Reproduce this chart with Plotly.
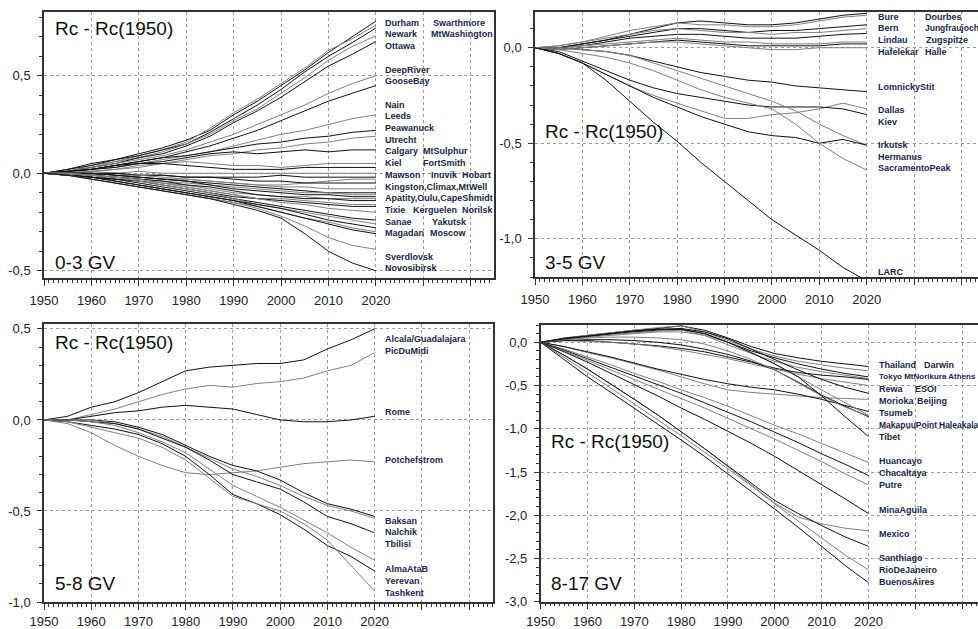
import plotly.graph_objects as go

# ---------------- DATA ----------------
years = [1950, 1955, 1960, 1965, 1970, 1975, 1980, 1985, 1990, 1995, 2000, 2005, 2010, 2015, 2020]

# Panel 1: 0-3 GV
p1_names = ["Durham", "Swarthmore", "Newark", "MtWashington", "Ottawa", "DeepRiver", "GooseBay",
            "Nain", "Leeds", "Peawanuck", "Utrecht", "Calgary", "MtSulphur", "Kiel", "FortSmith",
            "Mawson", "Inuvik", "Hobart", "Kingston", "Climax", "MtWell", "Apatity", "Oulu",
            "CapeShmidt", "Tixie", "Kerguelen", "Norilsk", "Sanae", "Yakutsk", "Magadan", "Moscow",
            "Sverdlovsk", "Novosibirsk"]
p1_values = [
    [0, 0.02, 0.05, 0.07, 0.10, 0.13, 0.17, 0.22, 0.30, 0.37, 0.45, 0.53, 0.62, 0.70, 0.78],
    [0, 0.01, 0.04, 0.06, 0.09, 0.12, 0.16, 0.23, 0.31, 0.38, 0.46, 0.54, 0.63, 0.69, 0.76],
    [0, 0.02, 0.04, 0.07, 0.09, 0.12, 0.15, 0.21, 0.28, 0.35, 0.43, 0.52, 0.60, 0.67, 0.745],
    [0, 0.01, 0.03, 0.06, 0.08, 0.11, 0.15, 0.20, 0.27, 0.33, 0.41, 0.49, 0.58, 0.65, 0.705],
    [0, 0.01, 0.03, 0.05, 0.08, 0.10, 0.14, 0.19, 0.26, 0.32, 0.39, 0.47, 0.55, 0.61, 0.676],
    [0, 0.01, 0.03, 0.05, 0.07, 0.09, 0.12, 0.16, 0.20, 0.25, 0.30, 0.35, 0.41, 0.46, 0.50],
    [0, 0.01, 0.02, 0.04, 0.06, 0.08, 0.11, 0.14, 0.18, 0.22, 0.27, 0.32, 0.37, 0.41, 0.45],
    [0, 0.01, 0.02, 0.03, 0.05, 0.07, 0.09, 0.11, 0.14, 0.17, 0.20, 0.22, 0.25, 0.28, 0.30],
    [0, 0.01, 0.02, 0.04, 0.06, 0.08, 0.09, 0.11, 0.13, 0.15, 0.16, 0.18, 0.19, 0.21, 0.22],
    [0, 0.01, 0.01, 0.02, 0.04, 0.05, 0.07, 0.09, 0.10, 0.12, 0.13, 0.15, 0.16, 0.18, 0.19],
    [0, 0.01, 0.02, 0.03, 0.05, 0.06, 0.08, 0.10, 0.11, 0.10, 0.11, 0.12, 0.11, 0.12, 0.12],
    [0, 0.00, 0.01, 0.02, 0.03, 0.05, 0.06, 0.05, 0.04, 0.04, 0.03, 0.04, 0.05, 0.05, 0.05],
    [0, 0.01, 0.02, 0.04, 0.05, 0.05, 0.04, 0.03, 0.02, 0.02, 0.02, 0.03, 0.03, 0.03, 0.03],
    [0, 0.00, 0.01, 0.00, 0.01, 0.00, 0.00, 0.00, 0.00, 0.00, 0.00, 0.00, 0.00, 0.00, 0.00],
    [0, 0.00, -0.01, 0.00, -0.01, -0.01, -0.02, -0.02, -0.02, -0.02, -0.01, -0.02, -0.02, -0.02, -0.02],
    [0, -0.01, -0.01, -0.02, -0.02, -0.03, -0.03, -0.04, -0.05, -0.06, -0.06, -0.05, -0.04, -0.03, -0.03],
    [0, 0.00, 0.00, 0.00, -0.01, -0.01, -0.02, -0.02, -0.03, -0.04, -0.04, -0.05, -0.05, -0.05, -0.05],
    [0, 0.00, 0.00, -0.01, -0.01, -0.02, -0.03, -0.04, -0.05, -0.06, -0.07, -0.07, -0.08, -0.08, -0.08],
    [0, 0.00, 0.00, -0.01, -0.02, -0.03, -0.04, -0.05, -0.06, -0.07, -0.08, -0.09, -0.10, -0.10, -0.10],
    [0, 0.00, -0.01, -0.02, -0.03, -0.04, -0.05, -0.06, -0.07, -0.08, -0.09, -0.10, -0.10, -0.11, -0.11],
    [0, 0.00, 0.00, -0.01, -0.02, -0.03, -0.04, -0.06, -0.08, -0.09, -0.10, -0.11, -0.11, -0.12, -0.12],
    [0, 0.00, -0.01, -0.02, -0.03, -0.05, -0.06, -0.08, -0.10, -0.11, -0.12, -0.12, -0.13, -0.13, -0.13],
    [0, 0.00, -0.01, -0.02, -0.03, -0.04, -0.06, -0.07, -0.09, -0.11, -0.12, -0.13, -0.13, -0.14, -0.14],
    [0, -0.01, -0.01, -0.03, -0.04, -0.05, -0.07, -0.09, -0.11, -0.13, -0.13, -0.14, -0.15, -0.16, -0.16],
    [0, -0.01, -0.02, -0.03, -0.04, -0.06, -0.08, -0.10, -0.12, -0.13, -0.14, -0.15, -0.16, -0.17, -0.17],
    [0, 0.00, -0.01, -0.02, -0.03, -0.05, -0.07, -0.09, -0.11, -0.13, -0.15, -0.16, -0.18, -0.19, -0.20],
    [0, -0.01, -0.02, -0.03, -0.05, -0.07, -0.09, -0.11, -0.13, -0.15, -0.17, -0.19, -0.21, -0.23, -0.24],
    [0, 0.00, -0.01, -0.02, -0.04, -0.06, -0.08, -0.10, -0.13, -0.16, -0.18, -0.20, -0.22, -0.24, -0.26],
    [0, -0.01, -0.02, -0.04, -0.06, -0.08, -0.10, -0.12, -0.14, -0.16, -0.18, -0.21, -0.24, -0.26, -0.28],
    [0, -0.01, -0.03, -0.05, -0.07, -0.09, -0.11, -0.13, -0.15, -0.17, -0.20, -0.23, -0.25, -0.28, -0.30],
    [0, -0.01, -0.02, -0.04, -0.06, -0.08, -0.10, -0.12, -0.14, -0.17, -0.20, -0.23, -0.26, -0.29, -0.31],
    [0, -0.01, -0.03, -0.05, -0.07, -0.09, -0.11, -0.13, -0.15, -0.18, -0.22, -0.27, -0.33, -0.37, -0.39],
    [0, -0.01, -0.03, -0.05, -0.07, -0.09, -0.11, -0.13, -0.16, -0.19, -0.23, -0.31, -0.40, -0.46, -0.50],
]

# Panel 2: 3-5 GV
p2_names = ["Bure", "Dourbes", "Bern", "Jungfraujoch", "Lindau", "Zugspitze", "Hafelekar", "Halle",
            "LomnickyStit", "Dallas", "Kiev", "Irkutsk", "Hermanus", "SacramentoPeak", "LARC"]
p2_values = [
    [0, 0.00, 0.02, 0.04, 0.07, 0.10, 0.13, 0.14, 0.13, 0.12, 0.12, 0.13, 0.15, 0.17, 0.18],
    [0, 0.01, 0.03, 0.06, 0.09, 0.11, 0.13, 0.12, 0.12, 0.11, 0.11, 0.12, 0.14, 0.16, 0.17],
    [0, 0.00, 0.02, 0.04, 0.06, 0.08, 0.10, 0.10, 0.09, 0.08, 0.09, 0.09, 0.10, 0.11, 0.12],
    [0, 0.01, 0.03, 0.05, 0.07, 0.09, 0.10, 0.09, 0.08, 0.08, 0.07, 0.08, 0.08, 0.09, 0.10],
    [0, 0.00, 0.01, 0.03, 0.05, 0.06, 0.07, 0.07, 0.06, 0.05, 0.05, 0.05, 0.06, 0.07, 0.075],
    [0, 0.00, 0.01, 0.02, 0.03, 0.04, 0.05, 0.04, 0.03, 0.03, 0.02, 0.02, 0.02, 0.03, 0.03],
    [0, -0.01, 0.00, 0.01, 0.02, 0.03, 0.04, 0.03, 0.02, 0.01, 0.01, 0.01, 0.01, 0.02, 0.02],
    [0, -0.01, 0.00, 0.01, 0.02, 0.03, 0.03, 0.02, 0.01, 0.00, -0.01, -0.01, 0.00, 0.00, 0.00],
    [0, 0.00, -0.01, -0.02, -0.04, -0.07, -0.10, -0.13, -0.15, -0.17, -0.18, -0.20, -0.21, -0.22, -0.23],
    [0, -0.03, -0.08, -0.14, -0.20, -0.25, -0.29, -0.33, -0.37, -0.37, -0.35, -0.34, -0.32, -0.29, -0.32],
    [0, -0.02, -0.07, -0.12, -0.17, -0.21, -0.24, -0.26, -0.28, -0.30, -0.31, -0.31, -0.31, -0.32, -0.35],
    [0, 0.00, -0.01, -0.02, -0.04, -0.08, -0.12, -0.16, -0.20, -0.24, -0.28, -0.33, -0.40, -0.46, -0.51],
    [0, -0.03, -0.08, -0.14, -0.20, -0.26, -0.31, -0.36, -0.40, -0.44, -0.46, -0.47, -0.50, -0.48, -0.51],
    [0, -0.01, -0.03, -0.05, -0.08, -0.12, -0.17, -0.22, -0.26, -0.29, -0.32, -0.40, -0.50, -0.58, -0.64],
    [0, -0.03, -0.08, -0.17, -0.28, -0.39, -0.49, -0.60, -0.70, -0.80, -0.90, -0.98, -1.06, -1.15, -1.22],
]

# Panel 3: 5-8 GV
p3_names = ["Alcala/Guadalajara", "PicDuMidi", "Rome", "Potchefstrom", "Baksan", "Nalchik",
            "Tbilisi", "AlmaAtaB", "Yerevan", "Tashkent"]
p3_values = [
    [0, 0.02, 0.07, 0.10, 0.15, 0.21, 0.27, 0.29, 0.30, 0.31, 0.31, 0.33, 0.39, 0.44, 0.50],
    [0, 0.00, 0.03, 0.06, 0.10, 0.14, 0.17, 0.19, 0.18, 0.20, 0.21, 0.23, 0.27, 0.30, 0.37],
    [0, 0.00, 0.02, 0.04, 0.05, 0.07, 0.08, 0.07, 0.06, 0.03, 0.00, -0.01, -0.01, 0.00, 0.02],
    [0, -0.02, -0.07, -0.14, -0.20, -0.25, -0.29, -0.30, -0.29, -0.28, -0.26, -0.24, -0.23, -0.22, -0.23],
    [0, 0.00, 0.00, -0.01, -0.04, -0.08, -0.14, -0.20, -0.25, -0.28, -0.33, -0.40, -0.46, -0.49, -0.53],
    [0, 0.00, 0.00, -0.02, -0.05, -0.09, -0.15, -0.21, -0.27, -0.31, -0.36, -0.42, -0.47, -0.50, -0.54],
    [0, 0.00, -0.01, -0.02, -0.05, -0.10, -0.15, -0.22, -0.30, -0.34, -0.38, -0.45, -0.53, -0.57, -0.62],
    [0, 0.00, -0.01, -0.03, -0.07, -0.12, -0.18, -0.27, -0.36, -0.42, -0.48, -0.55, -0.62, -0.70, -0.77],
    [0, -0.01, -0.03, -0.05, -0.08, -0.13, -0.20, -0.30, -0.41, -0.46, -0.52, -0.60, -0.69, -0.75, -0.83],
    [0, -0.01, -0.04, -0.07, -0.10, -0.15, -0.22, -0.32, -0.42, -0.46, -0.50, -0.57, -0.66, -0.80, -0.94],
]

# Panel 4: 8-17 GV
p4_names = ["Thailand", "Darwin", "Tokyo", "MtNorikura", "Athens", "Rewa", "ESOI", "Morioka",
            "Beijing", "Tsumeb", "MakapuuPoint", "Haleakala", "Tibet", "Huancayo", "Chacaltaya",
            "Putre", "MinaAguila", "Mexico", "Santhiago", "RioDeJaneiro", "BuenosAires"]
p4_values = [
    [0, 0.05, 0.08, 0.11, 0.14, 0.16, 0.19, 0.14, 0.05, -0.05, -0.13, -0.18, -0.22, -0.25, -0.28],
    [0, 0.04, 0.08, 0.11, 0.14, 0.17, 0.19, 0.12, 0.02, -0.08, -0.16, -0.22, -0.26, -0.30, -0.33],
    [0, 0.04, 0.07, 0.10, 0.12, 0.14, 0.15, 0.10, 0.00, -0.10, -0.18, -0.25, -0.31, -0.36, -0.40],
    [0, 0.03, 0.06, 0.09, 0.11, 0.13, 0.14, 0.08, -0.03, -0.13, -0.22, -0.29, -0.34, -0.38, -0.42],
    [0, 0.02, 0.02, 0.00, -0.02, -0.04, -0.07, -0.11, -0.17, -0.23, -0.30, -0.35, -0.38, -0.40, -0.43],
    [0, 0.02, 0.01, 0.00, -0.02, -0.05, -0.09, -0.14, -0.19, -0.25, -0.31, -0.37, -0.42, -0.46, -0.50],
    [0, 0.04, 0.07, 0.10, 0.13, 0.15, 0.16, 0.12, 0.04, -0.08, -0.20, -0.32, -0.43, -0.52, -0.59],
    [0, -0.05, -0.12, -0.18, -0.25, -0.32, -0.40, -0.48, -0.55, -0.58, -0.60, -0.62, -0.64, -0.65, -0.66],
    [0, -0.05, -0.11, -0.17, -0.24, -0.31, -0.37, -0.43, -0.48, -0.52, -0.55, -0.60, -0.66, -0.73, -0.80],
    [0, 0.03, 0.06, 0.08, 0.10, 0.12, 0.12, 0.08, 0.00, -0.12, -0.25, -0.40, -0.55, -0.70, -0.84],
    [0, 0.02, 0.03, 0.03, 0.02, 0.00, -0.03, -0.08, -0.14, -0.22, -0.32, -0.46, -0.61, -0.74, -0.86],
    [0, 0.03, 0.05, 0.06, 0.06, 0.05, 0.03, -0.02, -0.10, -0.20, -0.32, -0.47, -0.62, -0.75, -0.85],
    [0, 0.04, 0.07, 0.10, 0.13, 0.15, 0.15, 0.10, 0.00, -0.12, -0.25, -0.40, -0.62, -0.86, -1.09],
    [0, -0.08, -0.17, -0.26, -0.36, -0.45, -0.55, -0.64, -0.74, -0.85, -0.96, -1.06, -1.17, -1.28, -1.39],
    [0, -0.09, -0.19, -0.29, -0.39, -0.49, -0.59, -0.70, -0.81, -0.92, -1.04, -1.16, -1.29, -1.41, -1.54],
    [0, -0.10, -0.21, -0.32, -0.43, -0.54, -0.65, -0.76, -0.88, -1.00, -1.12, -1.25, -1.38, -1.52, -1.65],
    [0, -0.11, -0.23, -0.36, -0.49, -0.62, -0.76, -0.89, -1.03, -1.17, -1.32, -1.48, -1.64, -1.81, -1.98],
    [0, -0.15, -0.31, -0.48, -0.66, -0.84, -1.03, -1.23, -1.44, -1.65, -1.86, -2.02, -2.10, -2.15, -2.18],
    [0, -0.15, -0.31, -0.48, -0.66, -0.84, -1.03, -1.23, -1.43, -1.63, -1.83, -1.98, -2.12, -2.25, -2.36],
    [0, -0.17, -0.35, -0.53, -0.71, -0.90, -1.08, -1.27, -1.46, -1.66, -1.87, -2.07, -2.27, -2.46, -2.63],
    [0, -0.20, -0.40, -0.58, -0.76, -0.95, -1.13, -1.32, -1.52, -1.72, -1.93, -2.14, -2.36, -2.58, -2.78],
]

x_tick_years = [1950, 1960, 1970, 1980, 1990, 2000, 2010, 2020, 2030, 2040]
x_tick_text = ["1950", "1960", "1970", "1980", "1990", "2000", "2010", "2020", "", ""]

panel_titles = ["Rc - Rc(1950)"] * 4
panel_ranges_gv = ["0-3 GV", "3-5 GV", "5-8 GV", "8-17 GV"]

p1_yticks = [-0.5, 0.0, 0.5]
p1_yticktext = ["-0,5", "0,0", "0,5"]
p2_yticks = [-1.0, -0.5, 0.0]
p2_yticktext = ["-1,0", "-0,5", "0,0"]
p3_yticks = [-1.0, -0.5, 0.0, 0.5]
p3_yticktext = ["-1,0", "-0,5", "0,0", "0,5"]
p4_yticks = [-3.0, -2.5, -2.0, -1.5, -1.0, -0.5, 0.0]
p4_yticktext = ["-3,0", "-2,5", "-2,0", "-1,5", "-1,0", "-0,5", "0,0"]

# ---------------- LABEL LAYOUT (text, x-year, y-value, font size) ----------------
p1_labels = [
    ("Durham", 2021.5, 0.772, 9), ("Swarthmore", 2031.6, 0.772, 9),
    ("Newark", 2021.5, 0.712, 9), ("MtWashington", 2031.2, 0.712, 9),
    ("Ottawa", 2021.5, 0.652, 9),
    ("DeepRiver", 2021.5, 0.532, 9), ("GooseBay", 2021.5, 0.472, 9),
    ("Nain", 2021.5, 0.352, 9), ("Leeds", 2021.5, 0.292, 9), ("Peawanuck", 2021.5, 0.232, 9),
    ("Utrecht", 2021.5, 0.172, 9),
    ("Calgary", 2021.5, 0.112, 9), ("MtSulphur", 2029.6, 0.112, 9),
    ("Kiel", 2021.5, 0.052, 9), ("FortSmith", 2029.6, 0.052, 9),
    ("Mawson", 2021.5, -0.008, 9), ("Inuvik", 2031.2, -0.008, 9), ("Hobart", 2037.7, -0.008, 9),
    ("Kingston,Climax,MtWell", 2021.5, -0.068, 9),
    ("Apatity,Oulu,CapeShmidt", 2021.5, -0.128, 9),
    ("Tixie", 2021.5, -0.188, 9), ("Kerguelen", 2027.3, -0.188, 9), ("Norilsk", 2037.7, -0.188, 9),
    ("Sanae", 2021.5, -0.248, 9), ("Yakutsk", 2031.4, -0.248, 9),
    ("Magadan", 2021.5, -0.308, 9), ("Moscow", 2031.0, -0.308, 9),
    ("Sverdlovsk", 2021.5, -0.428, 9), ("Novosibirsk", 2021.5, -0.488, 9),
]
p2_labels = [
    ("Bure", 2021.9, 0.162, 9), ("Dourbes", 2031.8, 0.162, 9),
    ("Bern", 2021.9, 0.101, 9), ("Jungfraujoch", 2031.8, 0.101, 8.5),
    ("Lindau", 2021.9, 0.040, 9), ("Zugspitze", 2032.2, 0.040, 9),
    ("Hafelekar", 2021.9, -0.021, 9), ("Halle", 2031.8, -0.021, 9),
    ("LomnickyStit", 2021.9, -0.204, 9),
    ("Dallas", 2021.9, -0.326, 9), ("Kiev", 2021.9, -0.387, 9),
    ("Irkutsk", 2021.9, -0.509, 9), ("Hermanus", 2021.9, -0.570, 9),
    ("SacramentoPeak", 2021.9, -0.631, 9),
    ("LARC", 2021.9, -1.176, 9),
]
p3_labels = [
    ("Alcala/Guadalajara", 2021.7, 0.446, 9), ("PicDuMidi", 2021.7, 0.378, 9),
    ("Rome", 2021.7, 0.046, 9), ("Potchefstrom", 2021.7, -0.22, 9),
    ("Baksan", 2021.7, -0.554, 9), ("Nalchik", 2021.7, -0.618, 9), ("Tbilisi", 2021.7, -0.682, 9),
    ("AlmaAtaB", 2021.7, -0.816, 9), ("Yerevan", 2021.7, -0.883, 9), ("Tashkent", 2021.7, -0.951, 9),
]
p4_labels = [
    ("Thailand", 2021.8, -0.262, 9), ("Darwin", 2031.4, -0.262, 9),
    ("Tokyo MtNorikura Athens", 2021.8, -0.397, 8),
    ("Rewa", 2021.8, -0.540, 9), ("ESOI", 2029.6, -0.540, 9),
    ("Morioka", 2021.8, -0.678, 9), ("Beijing", 2030.0, -0.678, 9),
    ("Tsumeb", 2021.8, -0.820, 9),
    ("MakapuuPoint", 2021.8, -0.955, 8.5), ("Haleakala", 2034.6, -0.955, 8.5),
    ("Tibet", 2021.8, -1.097, 9),
    ("Huancayo", 2021.8, -1.378, 9), ("Chacaltaya", 2021.8, -1.51, 9), ("Putre", 2021.8, -1.655, 9),
    ("MinaAguila", 2021.8, -1.937, 9), ("Mexico", 2021.8, -2.214, 9),
    ("Santhiago", 2021.8, -2.495, 9), ("RioDeJaneiro", 2021.8, -2.63, 9), ("BuenosAires", 2021.8, -2.77, 9),
]

# ---------------- FIGURE ----------------
W, H = 978, 629
fig = go.Figure()

panels = [
    dict(names=p1_names, vals=p1_values, xa="x", ya="y", labels=p1_labels),
    dict(names=p2_names, vals=p2_values, xa="x2", ya="y2", labels=p2_labels),
    dict(names=p3_names, vals=p3_values, xa="x3", ya="y3", labels=p3_labels),
    dict(names=p4_names, vals=p4_values, xa="x4", ya="y4", labels=p4_labels),
]
line_colors = ["#111111", "#808080"]

for p in panels:
    for i, (nm, vals) in enumerate(zip(p["names"], p["vals"])):
        fig.add_trace(go.Scatter(
            x=years, y=vals, name=nm, mode="lines", xaxis=p["xa"], yaxis=p["ya"],
            line=dict(color=line_colors[i % 2], width=1), showlegend=False,
            hoverinfo="name+x+y"))

annotations = []
for p in panels:
    for txt, xv, yv, fs in p["labels"]:
        annotations.append(dict(text="<b>" + txt + "</b>", x=xv, y=yv, xref=p["xa"], yref=p["ya"],
                                xanchor="left", yanchor="middle", showarrow=False,
                                font=dict(family="Liberation Sans, Arial, sans-serif", size=fs,
                                          color="#1a2744")))

# domains (pixel based)
def xd(a, b):
    return [a / W, min(b / W, 1.0)]

def yd(top, bottom):
    return [(H - bottom) / H, (H - top) / H]

domains = [
    (xd(44, 494), yd(12, 278)),
    (xd(535, 978), yd(12, 277)),
    (xd(44, 492.7), yd(324, 602)),
    (xd(540.7, 978), yd(325, 601.7)),
]
xranges = [[1950, 2044.9], [1950, 2043.5], [1950, 2045.0], [1950, 2043.4]]
yranges = [[-0.537, 0.827], [-1.2, 0.187], [-1.0, 0.527], [-3.0, 0.2]]
yticks = [(p1_yticks, p1_yticktext, 0.1), (p2_yticks, p2_yticktext, 0.1),
          (p3_yticks, p3_yticktext, 0.1), (p4_yticks, p4_yticktext, 0.1)]
x_standoff = [4, 4, 1, 1]

tick_font = dict(family="Liberation Sans, Arial, sans-serif", size=13, color="#222222")
axis_color = "#333333"
grid_color = "#9a9a9a"

layout_axes = {}
for k in range(4):
    sfx = "" if k == 0 else str(k + 1)
    right = k in (1, 3)
    layout_axes["xaxis" + sfx] = dict(
        domain=domains[k][0], range=xranges[k], anchor="y" + sfx, automargin=False,
        tickmode="array", tickvals=x_tick_years, ticktext=x_tick_text,
        showgrid=True, gridcolor=grid_color, griddash="dot", gridwidth=1,
        showline=True, linecolor=axis_color, linewidth=1.5, mirror=True,
        ticks="outside", ticklen=6, tickcolor=axis_color, tickwidth=1,
        minor=dict(tickmode="linear", tick0=1950, dtick=1, ticks="outside", ticklen=3,
                   tickcolor=axis_color, showgrid=False),
        tickfont=tick_font, zeroline=False, fixedrange=True, ticklabelstandoff=x_standoff[k])
    yt, ytt, mdt = yticks[k]
    layout_axes["yaxis" + sfx] = dict(
        domain=domains[k][1], range=yranges[k], anchor="x" + sfx, automargin=False,
        tickmode="array", tickvals=yt, ticktext=ytt,
        showgrid=True, gridcolor=grid_color, griddash="dot", gridwidth=1,
        showline=True, linecolor=axis_color, linewidth=1.5, mirror=(not right),
        ticks="outside", ticklen=5, tickcolor=axis_color, tickwidth=1,
        minor=dict(tickmode="linear", tick0=0, dtick=mdt, ticks="outside", ticklen=3,
                   tickcolor=axis_color, showgrid=False),
        tickfont=tick_font, zeroline=False, fixedrange=True, ticklabelstandoff=4)

title_font = dict(family="Liberation Sans, Arial, sans-serif", size=19, color="#111111")
# panel title / range annotations (paper coords)
title_pos = [
    (53, 29, 53, 262),
    (543, 131, 543, 262),
    (53, 343, 53, 583),
    (549, 442, 549, 583),
]
for k in range(4):
    tx, ty, gx, gy = title_pos[k]
    annotations.append(dict(text=panel_titles[k], x=tx / W, y=(H - ty) / H, xref="paper", yref="paper",
                            xanchor="left", yanchor="middle", showarrow=False, font=title_font))
    annotations.append(dict(text=panel_ranges_gv[k], x=gx / W, y=(H - gy) / H, xref="paper", yref="paper",
                            xanchor="left", yanchor="middle", showarrow=False, font=title_font))

fig.update_layout(
    template="none",
    width=W, height=H, margin=dict(l=0, r=0, t=0, b=0, autoexpand=False),
    paper_bgcolor="white", plot_bgcolor="white",
    showlegend=False, annotations=annotations, **layout_axes)

fig.write_html("out.html", include_plotlyjs=True, config={"displayModeBar": False},
               post_script="document.body.style.margin='0';document.body.style.overflow='hidden';")
